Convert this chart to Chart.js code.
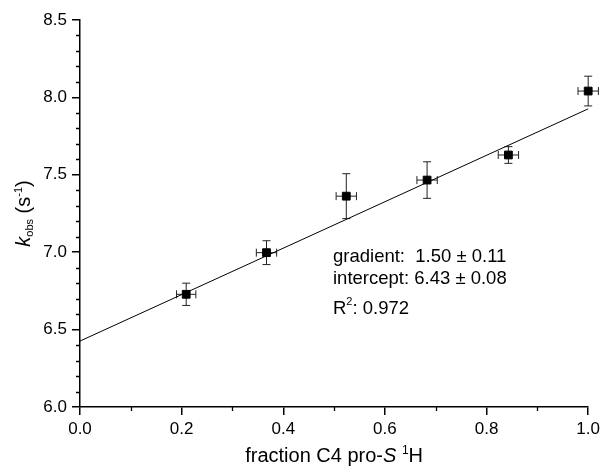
<!DOCTYPE html>
<html>
<head>
<meta charset="utf-8">
<script src="https://cdn.jsdelivr.net/npm/chart.js@4"></script>
<style>
  html, body { margin: 0; padding: 0; background: #fff; }
  #wrap { width: 604px; height: 471px; }
</style>
</head>
<body>
<div id="wrap"><canvas id="kobsChart" width="604" height="471"></canvas></div>
<script>
// Measured points (fraction C4 pro-S 1H vs k_obs)
const fractionX = [0.209, 0.367, 0.524, 0.683, 0.843, 1.000];
const kObs = [6.728, 6.997, 7.362, 7.466, 7.628, 8.041];
const xErr = [0.019, 0.020, 0.020, 0.020, 0.020, 0.020];
const yErr = [0.072, 0.077, 0.145, 0.118, 0.054, 0.096];

// Linear fit line end points
const fitX = [0.0, 1.0];
const fitY = [6.426, 7.926];

// Fit statistics shown on the chart
const fitLines = ['gradient:  1.50 \u00b1 0.11', 'intercept: 6.43 \u00b1 0.08', '0.972'];

const FONT = '"Liberation Sans", Arial, sans-serif';

// Error bars drawn through the scales
const errorBars = {
    id: 'errorBars',
    beforeDatasetsDraw(chart) {
        const xs = chart.scales.x, ys = chart.scales.y;
        const ctx = chart.ctx;
        const cap = 4;
        ctx.save();
        ctx.strokeStyle = '#222';
        ctx.lineWidth = 1;
        fractionX.forEach((xv, i) => {
            const px = xs.getPixelForValue(xv);
            const py = ys.getPixelForValue(kObs[i]);
            const yT = ys.getPixelForValue(kObs[i] + yErr[i]);
            const yB = ys.getPixelForValue(kObs[i] - yErr[i]);
            const xL = xs.getPixelForValue(xv - xErr[i]);
            const xR = xs.getPixelForValue(xv + xErr[i]);
            ctx.beginPath();
            ctx.moveTo(px, yT); ctx.lineTo(px, yB);
            ctx.moveTo(px - cap, yT); ctx.lineTo(px + cap, yT);
            ctx.moveTo(px - cap, yB); ctx.lineTo(px + cap, yB);
            ctx.moveTo(xL, py); ctx.lineTo(xR, py);
            ctx.moveTo(xL, py - cap); ctx.lineTo(xL, py + cap);
            ctx.moveTo(xR, py - cap); ctx.lineTo(xR, py + cap);
            ctx.stroke();
        });
        ctx.restore();
    }
};

// Minor ticks, axis titles and the fit text
const decorations = {
    id: 'decorations',
    afterDraw(chart) {
        const xs = chart.scales.x, ys = chart.scales.y;
        const area = chart.chartArea;
        const ctx = chart.ctx;
        ctx.save();
        ctx.strokeStyle = '#000';
        ctx.lineWidth = 1.3;
        ctx.beginPath();
        for (let v = 6.1; v < 8.45; v += 0.1) {
            if (Math.abs(v * 2 - Math.round(v * 2)) < 1e-6) continue;
            const py = Math.round(ys.getPixelForValue(v)) + 0.5;
            ctx.moveTo(area.left - 4, py); ctx.lineTo(area.left, py);
        }
        for (let v = 0.1; v < 1.0; v += 0.2) {
            const px = Math.round(xs.getPixelForValue(v)) + 0.5;
            ctx.moveTo(px, area.bottom); ctx.lineTo(px, area.bottom + 4);
        }
        ctx.stroke();

        ctx.fillStyle = '#000';
        ctx.textBaseline = 'alphabetic';

        // x title: fraction C4 pro-S 1H
        const parts = [
            { t: 'fraction C4 pro-', f: '20px ' + FONT, dy: 0 },
            { t: 'S', f: 'italic 20px ' + FONT, dy: 0 },
            { t: ' ', f: '20px ' + FONT, dy: 0 },
            { t: '1', f: '12px ' + FONT, dy: -8 },
            { t: 'H', f: '20px ' + FONT, dy: 0 }
        ];
        drawParts(ctx, parts, (area.left + area.right) / 2, 462);

        // y title: k_obs (s^-1)
        ctx.save();
        ctx.translate(30, (area.top + area.bottom) / 2);
        ctx.rotate(-Math.PI / 2);
        const yparts = [
            { t: 'k', f: 'italic 20px ' + FONT, dy: 0 },
            { t: 'obs', f: '11px ' + FONT, dy: 3 },
            { t: ' (s', f: '20px ' + FONT, dy: 0 },
            { t: '-1', f: '11px ' + FONT, dy: -8 },
            { t: ')', f: '20px ' + FONT, dy: 0 }
        ];
        drawParts(ctx, yparts, 0, 0);
        ctx.restore();

        // Fit results
        ctx.textAlign = 'left';
        ctx.font = '18.5px ' + FONT;
        const tx = 333;
        ctx.fillText(fitLines[0], tx, 262);
        ctx.fillText(fitLines[1], tx, 284);
        ctx.fillText('R', tx, 314);
        const rw = ctx.measureText('R').width;
        ctx.font = '11px ' + FONT;
        ctx.fillText('2', tx + rw, 305);
        const sw = ctx.measureText('2').width;
        ctx.font = '18.5px ' + FONT;
        ctx.fillText(': ' + fitLines[2], tx + rw + sw, 314);
        ctx.restore();
    }
};

function drawParts(ctx, parts, cx, baseY) {
    let total = 0;
    parts.forEach(p => { ctx.font = p.f; p.w = ctx.measureText(p.t).width; total += p.w; });
    let x = cx - total / 2;
    ctx.textAlign = 'left';
    parts.forEach(p => {
        ctx.font = p.f;
        ctx.fillText(p.t, x, baseY + p.dy);
        x += p.w;
    });
}

new Chart(document.getElementById('kobsChart').getContext('2d'), {
    type: 'scatter',
    data: {
        datasets: [
            {
                label: 'k_obs',
                data: fractionX.map((x, i) => ({ x: x, y: kObs[i] })),
                backgroundColor: '#000',
                borderColor: '#000',
                borderWidth: 1,
                pointStyle: 'rect',
                pointRadius: 5.5,
                pointHoverRadius: 5.5,
                clip: false,
                order: 1
            },
            {
                type: 'line',
                label: 'fit',
                data: fitX.map((x, i) => ({ x: x, y: fitY[i] })),
                borderColor: '#000',
                borderWidth: 1,
                pointRadius: 0,
                fill: false,
                tension: 0,
                clip: false,
                order: 2
            }
        ]
    },
    options: {
        responsive: false,
        animation: false,
        events: [],
        layout: { padding: { top: 20, right: 14, left: 0, bottom: 0 } },
        plugins: {
            legend: { display: false },
            tooltip: { enabled: false }
        },
        scales: {
            x: {
                type: 'linear',
                min: 0,
                max: 1.0,
                afterFit: function(scale) { scale.height = 64; },
                border: { display: true, color: '#000', width: 1.5 },
                grid: {
                    drawOnChartArea: false,
                    drawTicks: true,
                    tickLength: 8,
                    tickColor: '#000',
                    lineWidth: 1.5
                },
                ticks: {
                    stepSize: 0.2,
                    padding: 4,
                    color: '#000',
                    font: { family: FONT, size: 17 },
                    maxRotation: 0,
                    callback: v => v.toFixed(1)
                }
            },
            y: {
                type: 'linear',
                min: 6.0,
                max: 8.5,
                afterFit: function(scale) { scale.width = 80; },
                border: { display: true, color: '#000', width: 1.5 },
                grid: {
                    drawOnChartArea: false,
                    drawTicks: true,
                    tickLength: 8,
                    tickColor: '#000',
                    lineWidth: 1.5
                },
                ticks: {
                    stepSize: 0.5,
                    padding: 5,
                    color: '#000',
                    font: { family: FONT, size: 17 },
                    callback: v => v.toFixed(1)
                }
            }
        }
    },
    plugins: [errorBars, decorations]
});
</script>
</body>
</html>
